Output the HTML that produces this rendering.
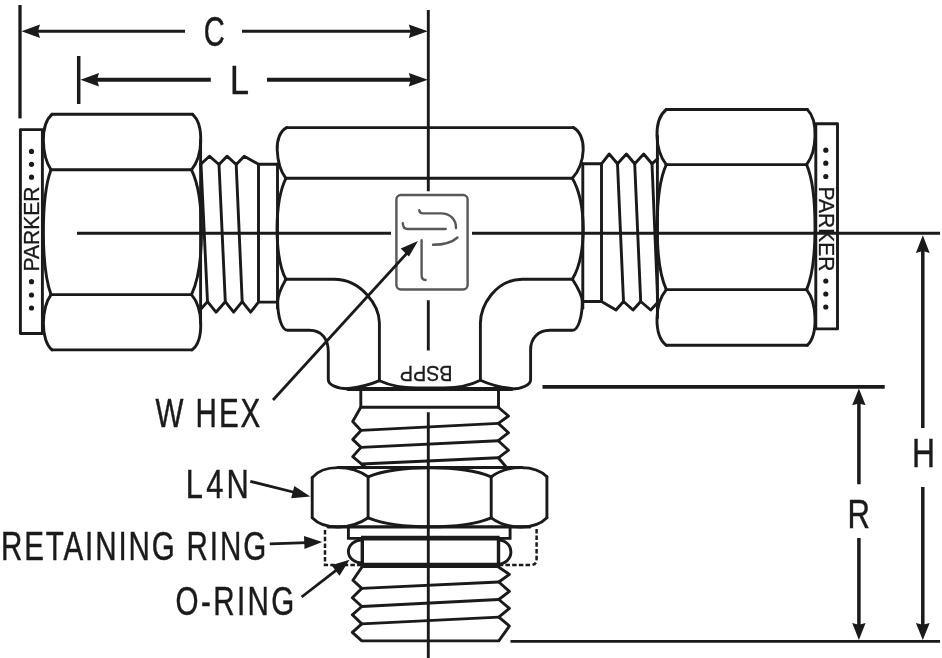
<!DOCTYPE html>
<html><head><meta charset="utf-8">
<style>
html,body{margin:0;padding:0;background:#fff;}
body{width:942px;height:658px;overflow:hidden;}
svg{display:block;}
text{font-family:"Liberation Sans",sans-serif;fill:#1c1a1b;}
svg{filter:grayscale(1);}
</style></head><body>
<svg width="942" height="658" viewBox="0 0 942 658">
<rect width="942" height="658" fill="#fff"/>
<g fill="none" stroke="#1c1a1b" stroke-width="2.3" stroke-linecap="butt" stroke-linejoin="round">

<!-- ===== centre lines ===== -->
<g stroke-width="2.9">
<path d="M428.3,10V191.3M428.3,300.3V350.5M428.3,412.2V658"/>
<path d="M77,233.2H391M472,233.2H940"/>
<path d="M510.5,641.4H940"/>
</g>
<path d="M542.5,386.8H884.7" stroke-width="3.7"/>

<!-- ===== dimension C / L ===== -->
<path d="M20,5V118.4" stroke-width="3.3"/>
<path d="M78.7,56V104" stroke-width="3.5"/>
<path d="M38,31.3H185M242,31.3H411" stroke-width="3"/>
<path d="M97,79.7H210.8M267,79.7H411" stroke-width="4"/>
<!-- R / H lines -->
<path d="M858.9,403V484.3M858.9,538V625" stroke-width="3.5"/>
<path d="M922.8,251V428M922.8,487V625" stroke-width="3.5"/>
</g>

<!-- arrow heads -->
<g fill="#1c1a1b" stroke="none">
<path d="M21.5,31.3L40,24.6L38,31.3L40,38Z"/>
<path d="M427.8,31.3L408.8,24.6L410.8,31.3L408.8,38Z"/>
<path d="M80.5,79.7L99,73L97,79.7L99,86.4Z"/>
<path d="M427.8,79.7L408.8,73L410.8,79.7L408.8,86.4Z"/>
<path d="M858.9,388.6L852.2,405.2L858.9,403.4L865.6,405.2Z"/>
<path d="M858.9,640L852.2,623L858.9,624.8L865.6,623Z"/>
<path d="M922.8,235.3L915.9,253L922.8,251L929.7,253Z"/>
<path d="M922.8,640L915.9,623L922.8,624.8L929.7,623Z"/>
</g>

<g id="main" fill="none" stroke="#1c1a1b" stroke-width="2.9" stroke-linecap="round" stroke-linejoin="round">
<!-- ===== LEFT NUT ===== -->
<path d="M52,114.3H192.5"/>
<path d="M51,169.8H191.5"/>
<path d="M51,294.6H191.5"/>
<path d="M52,349.9H192"/>
<!-- left side arcs -->
<path d="M52,114.3C46.5,119 43.2,129 43.4,141C43.6,153 46.5,163 51,169.8"/>
<path d="M51,169.8C46.8,181 43.4,201 43.4,232C43.4,263 46.8,283 51,294.6"/>
<path d="M51,294.6C46.5,301 43.6,311 43.4,323C43.2,335 46.5,345.5 52,349.9"/>
<!-- right side arcs -->
<path d="M192.5,114.3C198,119 201,129 200.7,141C200.5,153 197,163 191.5,169.8"/>
<path d="M191.5,169.8C197,181 201.5,201 201.5,232C201.5,263 197,283 191.5,294.6"/>
<path d="M191.5,294.6C197,301 200.5,311 200.7,323C201,335 198,345.5 192,349.9"/>
<!-- tube end -->
<path d="M42.4,129.6H20.4V333.5H42.4Z"/>

<!-- ===== LEFT THREAD ===== -->
<path d="M200.4,164.5L209.4,156.2L219,164.5L227,156.2L236.2,164.5L244.2,156.2L258.5,164.2H277.7"/>
<path d="M200.4,309.4L207.5,301.7L216,312.2L225.3,301.7L233.6,312.2L242.2,301.7L250.6,312.2L258.5,302.1H277.7"/>
<path d="M201,164.5L207.5,301.7M219,164.5L225.3,301.7M236.2,164.5L242.2,301.7M258.5,164.2V302.1"/>
<path d="M200.6,140V323"/>

<!-- ===== TEE BODY ===== -->
<path d="M286.8,127.6H573.3"/>
<path d="M285.9,178.3H572.3"/>
<path d="M286.8,127.6C280,131 276.7,140 277.2,150C277.7,162 281,172 285.9,178.3"/>
<path d="M285.9,178.3C281,188 277.2,205 277,229C277.2,253 281,270 285.9,279.3"/>
<path d="M277.5,164V308.3"/>
<path d="M573.3,127.6C580,131 583.6,140 583.2,150C582.8,162 578,172 572.3,178.3"/>
<path d="M572.3,178.3C578,188 583,205 583.3,229C583,253 578,270 572.3,279.3"/>
<path d="M582.8,164V308.3"/>
<!-- lower hex edge + inner elbows -->
<path d="M285.9,279.3H334C361.5,279.3 379.4,306 379.4,323V380.7"/>
<path d="M572.5,279.3H522.3C494.8,279.3 480.4,306.5 480.4,323.4V380.2"/>
<!-- lower outer -->
<path d="M285.9,279.3C281,288 277.7,296 277.7,301.6A9.7,28.7 0 0 0 287.4,330.3H309.5C322,330.4 328.3,339 328.3,352V379.7A19.7,9 0 0 0 348,388.7"/>
<path d="M572.5,279.3C578,288 582.3,296 582.3,301.6A9.7,28.7 0 0 1 572.6,330.3H550C538,330.4 530.6,338 530.6,350V379.7A19.2,9.3 0 0 1 511.4,389"/>
<path d="M348,389H511.5" stroke-width="3.9"/>
<path d="M349,388.4Q366,386.5 379.5,380.7C390,385.5 402,387.8 416,388H444C458,387.8 470,385.5 480.4,380.2Q494,386.5 511,388.4"/>

<!-- neck -->
<path d="M360.8,389V407.3H498.5V389"/>
<!-- upper stem thread -->
<path d="M360.8,407.3L352.7,421.5L361,430.4L352.7,439.4L361,447.4L352.7,456.6L361.5,464L366,467.6"/>
<path d="M498.5,407.5L508.5,416L498.3,423.4L508.5,432.7L498.3,440.7L508.5,450.2L498.3,457.8L506.4,467.2"/>
<path d="M361,430.4L498.3,423.4M361,447.4L498.3,440.7M361.5,464L498.3,457.8"/>

<!-- ===== LOCK NUT ===== -->
<path d="M338,467.5H522" stroke-width="3.2"/>
<path d="M312.2,477.6C318,470.5 327,467.6 338,467.6C350,467.6 360,471 368.1,476.8"/>
<path d="M368.1,476.8C385,470.2 410,467.8 430,467.8C450,467.8 475,470.2 491.2,476.8"/>
<path d="M491.2,476.8C499,471 509,467.6 521,467.6C532,467.6 541,470.5 546.9,476.8"/>
<path d="M312.2,477.6V517.8M368.1,476.8V517.8M491.2,476.8V517.8M546.9,476.8V517.8"/>
<path d="M312.2,517.8C318,524 327,527 338,527C350,527 360,523.5 368.1,517.8"/>
<path d="M368.1,517.8C385,524.5 410,526.8 430,526.8C450,526.8 475,524.5 491.2,517.8"/>
<path d="M491.2,517.8C499,523.5 509,527 521,527C532,527 541,524 546.9,517.8"/>
<path d="M328,526.8H530" stroke-width="3.2"/>

<!-- retaining ring -->
<path d="M348.4,527V538.4H510.1V527" stroke-width="2.9" stroke-linejoin="miter" stroke-linecap="butt"/>
<path d="M361,538.2H499.7" stroke-width="4.8" stroke-linecap="butt"/>
<!-- groove -->
<path d="M362.3,538V565.4M498.5,538V565.4" stroke-width="3.4" stroke-linecap="butt"/>
<path d="M360.6,565.4H500.2" stroke-width="5.2" stroke-linecap="butt"/>
<!-- o-ring -->
<path d="M362,540A13.6,11.5 0 0 0 362,563"/>
<path d="M498.5,540A12.4,12 0 0 1 498.5,564"/>
<!-- dashed box -->
<path d="M325,530.1V565H361" stroke-dasharray="4.5 2.2" stroke-width="2.5" stroke-linecap="butt" stroke-linejoin="miter"/>
<path d="M536.6,528.9V559Q536.6,565.1 530.5,565.1H500" stroke-dasharray="4.5 2.2" stroke-width="2.5" stroke-linecap="butt"/>

<!-- lower stem thread -->
<path d="M362,567L352.9,580.3L361.8,588.4L352.3,597.8L361.8,606.5L352.3,614.8L361.8,623.9L352.3,632.4L361.8,640.9H498.8L509.4,626L498.8,617.1L509.4,608.4L498.8,599.5L509.4,591.4L498.8,582L509.4,574.4L498.5,567"/>
<path d="M361.8,588.4L498.8,582M361.8,606.5L498.8,599.5M361.8,623.9L498.8,617.1"/>

<!-- ===== RIGHT THREAD ===== -->
<path d="M582.3,163.8H601.5L609.2,154L617.5,163.8L626.4,154L634.7,163.8L643.7,154L652,163.8L657.7,158.7"/>
<path d="M582.3,301.5H601.5L616,310L623.5,301.5L633,310L640.7,301.5L650.7,310L657.7,302.4"/>
<path d="M601.5,163.8V301.5M617.5,163.8L623.5,301.5M634.7,163.8L640.7,301.5M652,163.8L657.7,300"/>
<path d="M657.4,136V318"/>

<!-- ===== RIGHT NUT ===== -->
<path d="M666.3,109.5H807.3"/>
<path d="M666.3,164.6H806.6"/>
<path d="M666.3,289.6H806.6"/>
<path d="M666.3,345.3H807.3"/>
<path d="M666.3,109.5C660,114.5 656.7,124 657,136C657.3,148 661,158 666.3,164.6"/>
<path d="M666.3,164.6C661,176 657.2,196 657.2,227C657.2,258 661,278 666.3,289.6"/>
<path d="M666.3,289.6C661,296 657.3,306 657,318C656.7,330 660,340.5 666.3,345.3"/>
<path d="M807.3,109.5C812.5,114.5 815.3,124 815,136C814.8,148 811.6,158 806.6,164.6"/>
<path d="M806.6,164.6C811.6,176 815,196 815,227C815,258 811.6,278 806.6,289.6"/>
<path d="M806.6,289.6C811.6,296 814.8,306 815,318C815.3,330 812.5,340.5 807.3,345.3"/>
<path d="M815.8,123.8H837.5V328.9H815.8Z"/>
</g>

<!-- dots -->
<g fill="#1c1a1b">
<circle cx="31.5" cy="151.4" r="2.6"/><circle cx="31.5" cy="164.3" r="2.6"/><circle cx="31.5" cy="177.2" r="2.6"/>
<circle cx="31.5" cy="281.7" r="2.6"/><circle cx="31.5" cy="295" r="2.6"/><circle cx="31.5" cy="308" r="2.6"/>
<circle cx="825.8" cy="150.2" r="2.6"/><circle cx="825.8" cy="163.2" r="2.6"/><circle cx="825.8" cy="176.5" r="2.6"/>
<circle cx="825.8" cy="281" r="2.6"/><circle cx="825.8" cy="294" r="2.6"/><circle cx="825.8" cy="307" r="2.6"/>
</g>

<!-- PARKER texts -->
<text stroke="#1c1a1b" stroke-width="0.3" transform="translate(39.3,271.5) rotate(-90)" font-size="21.5" textLength="85" lengthAdjust="spacingAndGlyphs">PARKER</text>
<text stroke="#1c1a1b" stroke-width="0.3" transform="translate(818.6,186.5) rotate(90)" font-size="21.5" textLength="85" lengthAdjust="spacingAndGlyphs">PARKER</text>

<!-- BSPP upside-down -->
<text stroke="#1c1a1b" stroke-width="0.3" transform="translate(452.6,365.9) rotate(180)" font-size="21.2" textLength="52.8" lengthAdjust="spacingAndGlyphs">BSPP</text>

<!-- logo -->
<g fill="none" stroke="#58585a" stroke-width="2.4" stroke-linecap="round" stroke-linejoin="round">
<rect x="396.4" y="195" width="71.2" height="94.5" rx="4.5" ry="4.5"/>
<path d="M419.2,210.1Q419.6,213.4 423,213.4H441C450,213.4 456,219 456,228"/>
<path d="M402.8,223.2Q402.8,229 408,229H445.7"/>
<path d="M457.5,237.5C452,242.5 443,244.8 433,244.8"/>
<path d="M421.6,240.2V275Q421.6,280 425.6,280"/>
</g>

<!-- leaders -->
<g fill="none" stroke="#1c1a1b" stroke-width="2.8" stroke-linecap="butt">
<path d="M273,400L407.5,252.6"/>
<path d="M250.3,481.3L297,493"/>
<path d="M269.8,543.9L307.5,542.6"/>
<path d="M301.6,597L338,568.8"/>
</g>
<g fill="#1c1a1b" stroke="none">
<path d="M418,241.1L400.7,248.4L408.9,256.6Z"/>
<path d="M310.3,496.4L291.2,498.3L294.3,485.9Z"/>
<path d="M322.3,542.1L304.5,549.1L304,536.1Z"/>
<path d="M349.5,559.8L339.5,575.8L331.5,565.3Z"/>
</g>

<!-- labels -->
<g font-size="40" stroke="#1c1a1b" stroke-width="0.45">
<text x="203.8" y="46.4" font-size="42.5" textLength="21" lengthAdjust="spacingAndGlyphs">C</text>
<text x="230" y="93.9" font-size="41" textLength="19" lengthAdjust="spacingAndGlyphs">L</text>
<text x="912" y="466.5" textLength="23" lengthAdjust="spacingAndGlyphs">H</text>
<text x="847.5" y="527.6" textLength="22.5" lengthAdjust="spacingAndGlyphs">R</text>
<text transform="translate(155.6,426.9) scale(0.74,1)" letter-spacing="2.6">W HEX</text>
<text transform="translate(185.8,497.8) scale(0.77,1)" letter-spacing="4.2">L4N</text>
<text transform="translate(1,560.2) scale(0.74,1)" letter-spacing="2.5">RETAINING RING</text>
<text transform="translate(175.6,614.5) scale(0.74,1)" letter-spacing="3.2">O-RING</text>
</g>
</svg>
</body></html>
